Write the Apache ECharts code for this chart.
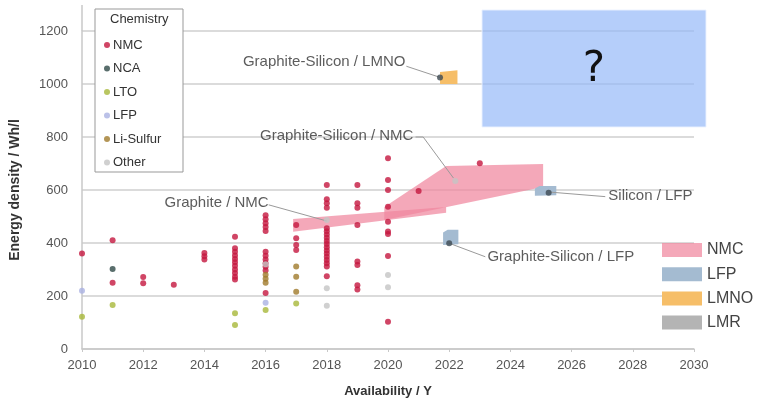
<!DOCTYPE html>
<html><head><meta charset="utf-8">
<script src="https://cdn.jsdelivr.net/npm/echarts@6/dist/echarts.min.js"></script>
<style>html,body{margin:0;padding:0;background:#fff}#c{width:769px;height:403px}</style>
</head><body><div id="c"></div>
<script>
// ---- data ----
const chemistries = ['NMC','NCA','LTO','LFP','Li-Sulfur','Other'];
const nmcPoints = [
 [2010,360],[2011,410],[2011,250],[2012,272],[2012,248],[2013,242],
 [2014,362],[2014,350],[2014,338],
 [2015,424],[2015,380],[2015,367],[2015,353],[2015,340],[2015,327],[2015,314],[2015,300],[2015,287],[2015,273],[2015,262],
 [2016,505],[2016,490],[2016,475],[2016,460],[2016,445],[2016,367],[2016,352],[2016,338],[2016,324],[2016,310],[2016,296],[2016,211],
 [2017,468],[2017,418],[2017,392],[2017,374],
 [2018,619],[2018,565],[2018,550],[2018,533],[2018,456],[2018,444],[2018,432],[2018,420],[2018,408],[2018,396],[2018,384],[2018,372],[2018,360],[2018,348],[2018,336],[2018,324],[2018,311],[2018,275],
 [2019,619],[2019,550],[2019,533],[2019,468],[2019,330],[2019,317],[2019,241],[2019,225],
 [2020,720],[2020,638],[2020,600],[2020,537],[2020,480],[2020,443],[2020,434],[2020,351],[2020,103],
 [2021,596],[2023,701]
];
const ncaPoints = [[2011,302]];
const ltoPoints = [[2010,122],[2011,166],[2015,135],[2015,91],[2016,147],[2017,172]];
const lfpPoints = [[2010,220],[2016,175]];
const liSulfurPoints = [[2016,280],[2016,265],[2016,250],[2017,311],[2017,273],[2017,216]];
const otherPoints = [[2016,320],[2018,487],[2018,229],[2018,163],[2020,279],[2020,233],[2022.2,634]];
const targetPoints = [[2021.7,1025],[2025.25,590],[2022,399]];

// projection regions (polygons in data units) and their chemistry
const regionNames = ['NMC','NMC','LFP','LFP','LMNO'];
const regionPolys = [
 [[2016.9,491],[2021.9,536],[2021.9,514],[2016.9,442]],
 [[2019.88,536],[2021.9,691],[2025.07,698],[2025.07,611],[2019.88,487]],
 [[2024.8,578],[2024.8,606],[2024.95,615],[2025.5,615],[2025.5,580]],
 [[2021.8,392],[2021.8,440],[2021.95,450],[2022.3,450],[2022.3,395]],
 [[2021.7,1000],[2021.7,1045],[2022.27,1052],[2022.27,1000]]
];
const regionLegend = ['NMC','LFP','LMNO','LMR'];

// annotations
const annoText = ['Graphite-Silicon / LMNO','Graphite-Silicon / NMC','Graphite / NMC','Silicon / LFP','Graphite-Silicon / LFP'];
const annoAnchor = [[2020.57,1083],[2020.83,803],[2016.1,551],[2027.2,577],[2023.25,348]];
const annoSide = ['left','left','left','right','right'];
const annoLeaders = [
 [[2020.6,1067],[2021.7,1025]],
 [[2020.9,800],[2021.15,800],[2022.14,645]],
 [[2016.1,544],[2018,483]],
 [[2025.3,592],[2027.1,575]],
 [[2022,399],[2023.18,348]]
];

// ---- chart ----
const chemColors = {'NMC':'#c4163f','NCA':'#2f4a47','LTO':'#a8b83a','LFP':'#aab2e2','Li-Sulfur':'#a07a2c','Other':'#c4c4c4'};
const regionColors = {'NMC':'rgba(240,135,158,0.72)','LFP':'#a4bbd1','LMNO':'#f6be68','LMR':'#b4b4b4'};
const font = 'Liberation Sans, Arial, sans-serif';
const chart = echarts.init(document.getElementById('c'));

function scatter(name, pts){
  return {type:'scatter', name, data:pts, symbolSize:6, z:5,
    itemStyle:{color:chemColors[name]}};
}

const graphic = [
  {type:'line', shape:{x1:82,y1:5,x2:82,y2:31}, style:{stroke:'#c8c8c8',lineWidth:1.5}, z:1},
  {type:'rect', shape:{x:95,y:9,width:88,height:163}, style:{fill:'#fff',stroke:'#999',lineWidth:1}, z:15},
  {type:'text', left:110, top:13, style:{text:'Chemistry', font:'13px '+font, fill:'#333'}, z:16},
  {type:'rect', shape:{x:482,y:10,width:224,height:117}, style:{fill:'rgba(150,185,248,0.7)',stroke:'rgba(235,242,255,0.9)',lineWidth:1}, z:30},
  {type:'text', x:594, y:70, style:{text:'?', font:'42px DejaVu Sans, sans-serif', fill:'#111', align:'center', verticalAlign:'middle'}, z:31}
];
regionLegend.forEach((n,i)=>{
  graphic.push({type:'rect', shape:{x:662,y:243+i*24.2,width:40,height:14}, style:{fill:regionColors[n]}, z:20});
  graphic.push({type:'text', x:707, y:250+i*24.2, style:{text:n, font:'16px '+font, fill:'#444', verticalAlign:'middle'}, z:20});
});

chart.setOption({
  animation:false,
  backgroundColor:'#fff',
  textStyle:{fontFamily:font},
  grid:{left:82, right:75, top:31, bottom:53.5},
  xAxis:{type:'value', min:2010, max:2030, interval:2,
    name:'Availability / Y', nameLocation:'middle', nameGap:36,
    nameTextStyle:{fontWeight:'bold', fontSize:13, color:'#333'},
    axisLine:{show:true, lineStyle:{color:'#c8c8c8', width:1.5}},
    axisTick:{show:true, length:3, lineStyle:{color:'#c8c8c8'}},
    axisLabel:{fontSize:13, color:'#555', margin:10, formatter:v=>String(v)},
    splitLine:{show:false}},
  yAxis:{type:'value', min:0, max:1200, interval:200,
    name:'Energy density / Wh/l', nameLocation:'middle', nameGap:60,
    nameTextStyle:{fontWeight:'bold', fontSize:14, color:'#333'},
    axisLine:{show:true, lineStyle:{color:'#c8c8c8', width:1.5}},
    axisTick:{show:false},
    axisLabel:{fontSize:13, color:'#555', margin:14, formatter:v=>String(v)},
    splitLine:{show:true, lineStyle:{color:'#cfcfcf', width:1.5}}},
  legend:{data:chemistries, orient:'vertical', left:99, top:33, icon:'circle',
    itemWidth:6, itemHeight:6, itemGap:9.5, z:20,
    textStyle:{fontSize:13, color:'#333', fontFamily:font, lineHeight:14, padding:[0,0,0,-2]}},
  graphic,
  series:[
    {type:'custom', name:'regions', z:2, silent:true,
     data:regionPolys.map(p=>p[0]),
     renderItem:(params, api)=>{
       const poly = regionPolys[params.dataIndex];
       return {type:'polygon', shape:{points:poly.map(p=>api.coord(p))},
         style:{fill:regionColors[regionNames[params.dataIndex]]}};
     }},
    {type:'custom', name:'leaders', z:3, silent:true,
     data:annoLeaders.map(l=>l[0]),
     renderItem:(params, api)=>{
       const l = annoLeaders[params.dataIndex];
       return {type:'polyline', shape:{points:l.map(p=>api.coord(p))},
         style:{stroke:'#9a9a9a', lineWidth:1, fill:null}};
     }},
    scatter('NMC', nmcPoints),
    scatter('NCA', ncaPoints),
    scatter('LTO', ltoPoints),
    scatter('LFP', lfpPoints),
    scatter('Li-Sulfur', liSulfurPoints),
    scatter('Other', otherPoints),
    {type:'scatter', name:'targets', data:targetPoints, symbolSize:6, z:6,
     itemStyle:{color:'#3d4a52'}},
    {type:'scatter', name:'annotations', silent:true, symbolSize:0, z:7,
     data:annoText.map((t,i)=>({value:annoAnchor[i], name:t,
       label:{show:true, position:annoSide[i], distance:0, formatter:'{b}',
         fontSize:15, color:'#333', fontFamily:font}}))}
  ]
});
</script></body></html>
